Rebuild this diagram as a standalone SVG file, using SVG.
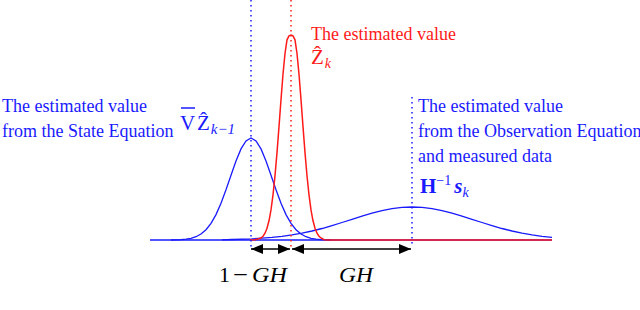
<svg xmlns="http://www.w3.org/2000/svg" width="640" height="310" viewBox="0 0 640 310">
<style>
text{font-family:"Liberation Serif","Times New Roman","DejaVu Serif",serif}
.t{font-size:18px}
.b{fill:#1a1aff}
.r{fill:#ff1a1a}
.m{font-style:italic;font-size:22px;fill:#000}
.cb{fill:none;stroke:#1a1aff;stroke-width:1.3}
.cr{fill:none;stroke:#ff1a1a;stroke-width:1.5}
.db{stroke:#1a1aff;stroke-width:1.5;stroke-dasharray:1.5 3.5}
.dr{stroke:#ff1a1a;stroke-width:1.5;stroke-dasharray:1.5 3.5}
.ar{stroke:#000;stroke-width:1.5;fill:none}
</style>
<defs>
<marker id="ah" viewBox="0 0 12 10" refX="12" refY="5" markerWidth="12" markerHeight="10" markerUnits="userSpaceOnUse" orient="auto-start-reverse">
<path d="M0,0 L12,5 L0,10 Z" fill="#000"/>
</marker>
</defs>
<g id="curves">
<path class="cb" d="M150,240 L552,240"/>
<path class="cb" d="M171,240 L181,239.6 L186,239.2 L191,238.3 L196,236.7 L201,234 L206,229.7 L211,223.4 L216,214.6 L221,203.2 L226,189.8 L231,175.2 L236,161 L241,148.9 L246,140.9 L251,138 L256,140.9 L261,148.9 L266,161 L271,175.2 L276,189.8 L281,203.2 L286,214.6 L291,223.4 L296,229.7 L301,234 L306,236.7 L311,238.3 L316,239.2 L321,239.6 L331,240"/>
<path class="cb" d="M222,239.8 L232,239.5 L252,238.8 L262,238.2 L272,237.4 L282,236.3 L292,234.9 L302,233.2 L312,231 L322,228.5 L332,225.6 L342,222.5 L352,219.3 L362,216.2 L372,213.2 L382,210.6 L392,208.7 L402,207.4 L412,207 L422,207.4 L432,208.7 L442,210.6 L452,213.2 L462,216.2 L472,219.3 L482,222.5 L492,225.6 L502,228.5 L512,231 L522,233.2 L532,234.9 L542,236.3 L552,237.4"/>
<path class="cr" d="M250,240 L255,239.7 L258,239 L261,238 L263,236.25 L265,233.2 L267,228.3 L269,220.8 L271,209.9 L273,194.9 L275,175.7 L277,152.6 L279,126.6 L281,99.6 L283,74.3 L285,53.5 L287,39.8 L289,35.8 L291,35 L293,35.8 L295,39.8 L297,53.5 L299,74.3 L301,99.6 L303,126.6 L305,152.6 L307,175.7 L309,194.9 L311,209.9 L313,220.8 L315,228.3 L317,233.2 L319,236.25 L321,238 L324,239.7 L328,240 L552,240"/>
</g>
<g id="guides">
<line class="db" x1="251" y1="0" x2="251" y2="248"/>
<line class="dr" x1="291" y1="0" x2="291" y2="248"/>
<line class="db" x1="412" y1="97" x2="412" y2="246"/>
</g>
<g id="connectors">
<line class="ar" x1="251" y1="249" x2="290" y2="249" marker-start="url(#ah)" marker-end="url(#ah)"/>
<line class="ar" x1="292" y1="249" x2="411" y2="249" marker-start="url(#ah)" marker-end="url(#ah)"/>
</g>
<g id="label-state">
<text class="t b" x="2" y="112">The estimated value</text>
<text class="t b" x="2" y="137">from the State Equation</text>
<text class="b" x="180" y="130" font-size="21">V</text>
<line x1="181" y1="108" x2="195" y2="108" stroke="#1a1aff" stroke-width="1.5"/>
<text class="b" x="197" y="130" font-size="21">Ẑ<tspan dx="1" dy="4" font-size="15" font-style="italic">k−1</tspan></text>
</g>
<g id="label-estimated">
<text class="t r" x="311" y="40">The estimated value</text>
<text class="r" x="311" y="64" font-size="21">Ẑ<tspan dx="1" dy="4" font-size="14" font-style="italic">k</tspan></text>
</g>
<g id="label-observation">
<text class="t b" x="418" y="112">The estimated value</text>
<text class="t b" x="418" y="137">from the Observation Equation</text>
<text class="t b" x="418" y="162">and measured data</text>
<text class="b" x="420" y="193" font-size="21" font-weight="bold">H<tspan dy="-8" font-size="14" font-weight="normal">−1</tspan><tspan dy="8" dx="3" font-style="italic">s</tspan><tspan dy="4" font-size="14" font-style="italic" font-weight="normal">k</tspan></text>
</g>
<g id="label-gains">
<text class="m" x="219" y="282"><tspan font-style="normal">1</tspan></text>
<text class="m" x="233" y="282" textLength="15" lengthAdjust="spacingAndGlyphs"><tspan font-style="normal">−</tspan></text>
<text class="m" x="252" y="282" textLength="35" lengthAdjust="spacingAndGlyphs">GH</text>
<text class="m" x="339" y="282" textLength="34" lengthAdjust="spacingAndGlyphs">GH</text>
</g>
</svg>
